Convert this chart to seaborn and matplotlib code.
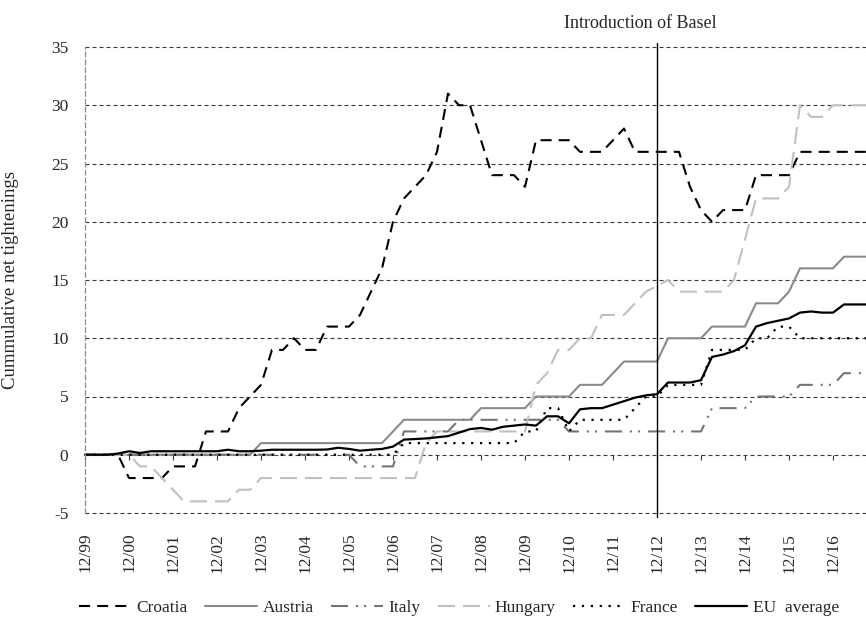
import matplotlib
matplotlib.use("Agg")
import matplotlib.pyplot as plt
import matplotlib.transforms as mtransforms
import seaborn as sns
import pandas as pd

# ---------------- data (quarterly, 12/99 ... 9/17) ----------------
tick_labels = ["12/99", "12/00", "12/01", "12/02", "12/03", "12/04", "12/05", "12/06",
               "12/07", "12/08", "12/09", "12/10", "12/11", "12/12", "12/13", "12/14",
               "12/15", "12/16"]

croatia = [0, 0, 0, 0, -2, -2, -2, -2, -1, -1, -1, 2, 2, 2, 4, 5, 6, 9, 9, 10,
           9, 9, 11, 11, 11, 12, 14, 16, 20, 22, 23, 24, 26, 31, 30, 30, 27, 24, 24, 24,
           23, 27, 27, 27, 27, 26, 26, 26, 27, 28, 26, 26, 26, 26, 26, 23, 21, 20, 21, 21,
           21, 24, 24, 24, 24, 26, 26, 26, 26, 26, 26, 26]

austria = [0] * 16 + [1] * 12 + [2] + [3] * 7 + [4] * 5 + [5] * 4 + [6] * 3 + [7] + \
          [8] * 4 + [10] * 4 + [11] * 4 + [13] * 3 + [14] + [16] * 4 + [17] * 3

italy = [0] * 25 + [-1] * 4 + [2] * 5 + [3] * 10 + [2] * 13 + [4] * 4 + [5] * 4 + \
        [6] * 4 + [7] * 3

hungary = [0, 0, 0, 0, 0, -1, -1, -2, -3, -4, -4, -4, -4, -4, -3, -3,
           -2, -2, -2, -2, -2, -2, -2, -2, -2, -2, -2, -2, -2, -2, -2, 1,
           2, 2, 2, 2, 2, 2, 2, 2, 2, 6, 7, 9, 9, 10, 10, 12, 12, 12, 13, 14,
           14.5, 15, 14, 14, 14, 14, 14, 15, 18.5, 22, 22, 22, 23, 30, 29, 29,
           30, 30, 30, 30]

france = [0] * 29 + [1] * 11 + [2, 2, 4, 4, 2, 3, 3, 3, 3, 3, 4, 5, 5, 6, 6, 6, 6,
                               9, 9, 9, 9, 10, 10, 11, 11] + [10] * 7

eu_average = [0, 0, 0, 0.1, 0.3, 0.15, 0.3, 0.3, 0.3, 0.3, 0.3, 0.3, 0.3, 0.43, 0.3, 0.3,
              0.35, 0.43, 0.43, 0.43, 0.43, 0.43, 0.45, 0.6, 0.5, 0.35, 0.43, 0.5, 0.7, 1.3,
              1.35, 1.4, 1.5, 1.6, 1.9, 2.2, 2.3, 2.15, 2.4, 2.5, 2.6, 2.5, 3.3, 3.3, 2.7,
              3.9, 4.0, 4.0, 4.3, 4.6, 4.9, 5.1, 5.2, 6.2, 6.2, 6.2, 6.4, 8.4, 8.6, 8.9,
              9.4, 11.0, 11.3, 11.5, 11.7, 12.2, 12.3, 12.2, 12.2, 12.9, 12.9, 12.9]

basel_quarter = 52
quarters = list(range(len(croatia)))

series = [
    ("Croatia", croatia, "black", (0, (5.3, 3.4)), 1.5),
    ("Austria", austria, "#8a8a8a", "-", 1.5),
    ("Italy", italy, "#747474", (0, (8.2, 3.8, 1, 2.9, 1, 3.8)), 1.5),
    ("Hungary", hungary, "#c0c0c0", (0, (8.2, 3.8)), 1.5),
    ("France", france, "black", (0, (1, 3)), 1.6),
    ("EU  average", eu_average, "black", "-", 1.6),
]

# ---------------- styling ----------------
sns.set_theme(style="white")
plt.rcParams["font.family"] = ["Liberation Serif", "DejaVu Serif"]
plt.rcParams["font.size"] = 12

fig = plt.figure(figsize=(8.66, 6.17), dpi=100)
ax = fig.add_axes([85 / 866, 104 / 617, 781 / 866, 466 / 617])

for name, vals, color, ls, lw in series:
    df = pd.DataFrame({"q": quarters, "v": vals})
    sns.lineplot(data=df, x="q", y="v", ax=ax, color=color, linestyle=ls,
                 linewidth=lw, label=name, clip_on=False)

ax.set_xlim(0, len(croatia) - 1)
ax.set_ylim(-5, 35)
ax.set_yticks(range(-5, 36, 5))
ax.set_yticklabels([str(v) for v in range(-5, 36, 5)], fontsize=12.5)
ax.tick_params(axis="y", length=0, pad=12)

# x axis: ticks on the zero line, labels at the bottom
ax.spines["bottom"].set_position(("data", 0))
ax.spines["bottom"].set_visible(False)
ax.spines["top"].set_visible(False)
ax.spines["right"].set_visible(False)
ax.spines["left"].set_color("#8c8c8c")
ax.spines["left"].set_linestyle((0, (3.6, 2.7)))
ax.spines["left"].set_linewidth(0.9)
ax.set_xticks(range(0, 4 * len(tick_labels), 4))
ax.set_xticklabels(tick_labels, rotation=90, fontsize=12.5)
ax.tick_params(axis="x", direction="out", length=3.6, width=0.8, color="#333333",
               pad=52.6, bottom=True)

ax.yaxis.grid(True, color="#3a3a3a", linestyle=(0, (3.6, 2.7)), linewidth=0.8)
ax.xaxis.grid(False)
for gl in ax.get_ygridlines():
    gl.set_clip_on(False)

ax.set_xlabel("")
ax.set_ylabel("Cummulative net tightenings", fontsize=13.5)
ax.yaxis.set_label_coords(-0.084, 0.5)

# Basel line and annotation
ax.axvline(basel_quarter, ymin=-0.009, ymax=1.009, color="black", linewidth=1.0,
           clip_on=False)
trans = mtransforms.blended_transform_factory(ax.transData, ax.transAxes)
ax.text(basel_quarter - 1.5, 1.0515, "Introduction of Basel", transform=trans,
        ha="center", va="center", fontsize=13)

ax.legend(loc="center", bbox_to_anchor=(0.53, 0.0146), bbox_transform=fig.transFigure,
          ncol=6, frameon=False, fontsize=12.5, handlelength=3.0, handletextpad=0.3,
          columnspacing=1.0, borderaxespad=0)

fig.savefig("out.png", dpi=100)
